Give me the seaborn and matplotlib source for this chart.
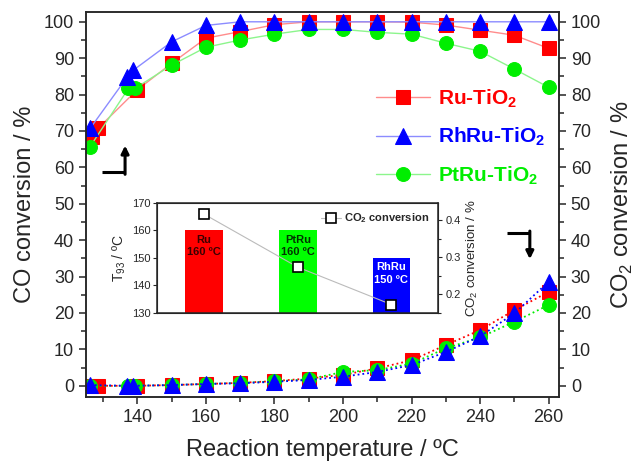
import numpy as np
import matplotlib
matplotlib.use("Agg")
import matplotlib.pyplot as plt
import matplotlib.ticker as mticker
import seaborn as sns

# values
ru_temp = [126.7, 128.6, 139.8, 150, 160, 170, 180, 190, 200, 210, 220, 230, 240, 250, 260]
ru_co = [68.4, 70.8, 81.2, 88.6, 95.5, 97.3, 99.2, 100, 100, 100, 99.9, 99.1, 97.7, 96.3, 92.7]
ru_co2 = [0, 0, 0, 0.2, 0.5, 0.8, 1.3, 2.0, 3.0, 4.8, 7.0, 11.2, 15.3, 20.8, 25.8]

rhru_temp = [126.2, 137.0, 138.8, 150, 160, 170, 180, 190, 200, 210, 220, 230, 240, 250, 260]
rhru_co = [70.7, 84.8, 86.7, 94.5, 99.0, 100, 100, 100, 100, 100, 100, 100, 100, 100, 100]
rhru_co2 = [0.2, 0, 0, 0.2, 0.5, 0.7, 1.1, 1.6, 2.5, 3.8, 5.7, 9.3, 13.6, 19.9, 28.6]

ptru_temp = [126.2, 137.4, 139.3, 150, 160, 170, 180, 190, 200, 210, 220, 230, 240, 250, 260]
ptru_co = [65.7, 81.7, 81.7, 88.1, 93.0, 95.0, 96.6, 97.9, 97.9, 97.1, 96.6, 94.1, 91.9, 87.0, 82.0]
ptru_co2 = [0, 0, 0, 0.2, 0.5, 0.8, 1.2, 1.8, 3.8, 4.3, 6.1, 10.3, 13.3, 17.6, 22.2]

# inset: T93 and CO2 conversion per catalyst
inset_names = ["Ru", "PtRu", "RhRu"]
inset_t93 = [160, 160, 150]
inset_co2 = [0.416, 0.273, 0.172]

sns.set_style("ticks")
plt.rcParams['font.family'] = ['Liberation Sans', 'DejaVu Sans']
plt.rcParams['mathtext.fontset'] = 'custom'
plt.rcParams['mathtext.rm'] = 'Liberation Sans'
plt.rcParams['mathtext.bf'] = 'Liberation Sans:bold'
plt.rcParams['axes.linewidth'] = 1.1

fig = plt.figure(figsize=(6.37, 4.67), dpi=100)
ax = fig.add_axes([0.135, 0.1505, 0.7425, 0.8231])

series = [
    ("Ru-TiO$_\\mathbf{2}$", ru_temp, ru_co, ru_co2, "#ff0000", "#ff8c8c", "s", 9.5),
    ("PtRu-TiO$_\\mathbf{2}$", ptru_temp, ptru_co, ptru_co2, "#00ee00", "#8cf58c", "o", 10),
    ("RhRu-TiO$_\\mathbf{2}$", rhru_temp, rhru_co, rhru_co2, "#0000ff", "#8c8cff", "^", 11),
]

handles = {}
for name, t, co, co2, col, pale, mk, ms in series:
    sns.lineplot(x=t, y=co, ax=ax, color=pale, lw=1.0, marker=mk, markersize=ms,
                 markerfacecolor=col, markeredgecolor=col, sort=False, legend=False)
    handles[name] = ax.lines[-1]
    sns.lineplot(x=t, y=co2, ax=ax, color=col, lw=1.3, ls=":", marker=mk, markersize=ms,
                 markerfacecolor=col, markeredgecolor=col, sort=False, legend=False)

ax.set_xlim(125, 263)
ax.set_ylim(-3, 102.6)
ax.xaxis.set_major_locator(mticker.MultipleLocator(20))
ax.xaxis.set_minor_locator(mticker.MultipleLocator(10))
ax.yaxis.set_major_locator(mticker.MultipleLocator(10))
ax.yaxis.set_minor_locator(mticker.MultipleLocator(5))
ax.tick_params(which='major', length=5, width=1.1, labelsize=13, direction='out')
ax.tick_params(which='minor', length=3.5, width=1.1, direction='out')
ax.set_xlabel("Reaction temperature / ºC", fontsize=17, labelpad=10)
ax.set_ylabel("CO conversion / %", fontsize=17, labelpad=6)

ax_r = ax.twinx()
ax_r.set_ylim(ax.get_ylim())
ax_r.yaxis.set_major_locator(mticker.MultipleLocator(10))
ax_r.yaxis.set_minor_locator(mticker.MultipleLocator(5))
ax_r.tick_params(which='major', length=5, width=1.1, labelsize=13, direction='out')
ax_r.tick_params(which='minor', length=3.5, width=1.1, direction='out')
ax_r.set_ylabel("CO$_2$ conversion / %", fontsize=17, labelpad=6)

order = ["Ru-TiO$_\\mathbf{2}$", "RhRu-TiO$_\\mathbf{2}$", "PtRu-TiO$_\\mathbf{2}$"]
leg = ax.legend([handles[k] for k in order], order, loc='upper left',
                bbox_to_anchor=(376 / 637, 1 - 87 / 467), bbox_transform=fig.transFigure,
                frameon=False, borderpad=0, borderaxespad=0, handlelength=2.6,
                handletextpad=0.4, labelspacing=0.78,
                prop={'size': 15, 'weight': 'bold'})
for txt, col in zip(leg.get_texts(), ["#ff0000", "#0000ff", "#00ee00"]):
    txt.set_color(col)

# direction arrows (left axis / right axis)
ax.plot([129.7, 136.4], [58.7, 58.7], color='k', lw=2.2, solid_capstyle='butt')
ax.annotate('', xy=(136.4, 66.0), xytext=(136.4, 58.1),
            arrowprops=dict(arrowstyle='-|>', lw=2.2, color='k', mutation_scale=11,
                            shrinkA=0, shrinkB=0))
ax.plot([247.8, 254.5], [41.9, 41.9], color='k', lw=2.2, solid_capstyle='butt')
ax.annotate('', xy=(254.5, 34.8), xytext=(254.5, 42.5),
            arrowprops=dict(arrowstyle='-|>', lw=2.2, color='k', mutation_scale=11,
                            shrinkA=0, shrinkB=0))

# inset
ax_in = fig.add_axes([0.247, 0.3304, 0.441, 0.2355])
ax_in.set_facecolor('white')
bar_cols = ["#ff0000", "#00ff00", "#0000ff"]
sns.barplot(x=inset_names, y=inset_t93, hue=inset_names, palette=bar_cols,
            width=0.4, legend=False, ax=ax_in, saturation=1, linewidth=0)
ax_in.set_xlim(-0.5, 2.5)
ax_in.set_ylim(130, 170)
ax_in.set_xticks([])
ax_in.set_xlabel("")
ax_in.yaxis.set_major_locator(mticker.MultipleLocator(10))
ax_in.tick_params(axis='y', length=3, width=0.8, labelsize=8, pad=2)
ax_in.set_ylabel("T$_{93}$ / ºC", fontsize=10, labelpad=3)
for sp in ax_in.spines.values():
    sp.set_linewidth(0.8)

txt_cols = ["#3a0000", "#003300", "#ffffff"]
for i, (nm, val, tc) in enumerate(zip(inset_names, inset_t93, txt_cols)):
    ax_in.text(i, val - 1.6, f"{nm}\n{val} ºC", ha='center', va='top', fontsize=8,
               fontweight='bold', color=tc, multialignment='center', linespacing=1.3)

ax_in2 = ax_in.twinx()
pos = np.arange(len(inset_names))
sns.lineplot(x=pos, y=inset_co2, ax=ax_in2, color='#bbbbbb', lw=0.8, marker='s',
             markersize=7, markerfacecolor='white', markeredgecolor='black',
             markeredgewidth=1.2, sort=False, legend=False)
ax_in2.set_ylim(0.15, 0.447)
ax_in2.yaxis.set_major_locator(mticker.MultipleLocator(0.1))
ax_in2.yaxis.set_minor_locator(mticker.MultipleLocator(0.05))
ax_in2.yaxis.set_major_formatter(mticker.FormatStrFormatter('%.1f'))
ax_in2.tick_params(which='major', length=3, width=0.8, labelsize=8, pad=2)
ax_in2.tick_params(which='minor', length=2, width=0.8)
ax_in2.set_ylabel("CO$_2$ conversion / %", fontsize=9.5, labelpad=3)
ax_in2.legend([ax_in2.lines[-1]], ["CO$_\\mathbf{2}$ conversion"], loc='upper right',
              bbox_to_anchor=(0.995, 0.99), frameon=False, borderpad=0.2,
              handlelength=1.8, handletextpad=0.3, prop={'size': 8, 'weight': 'bold'})

fig.savefig("out.png", dpi=100)
